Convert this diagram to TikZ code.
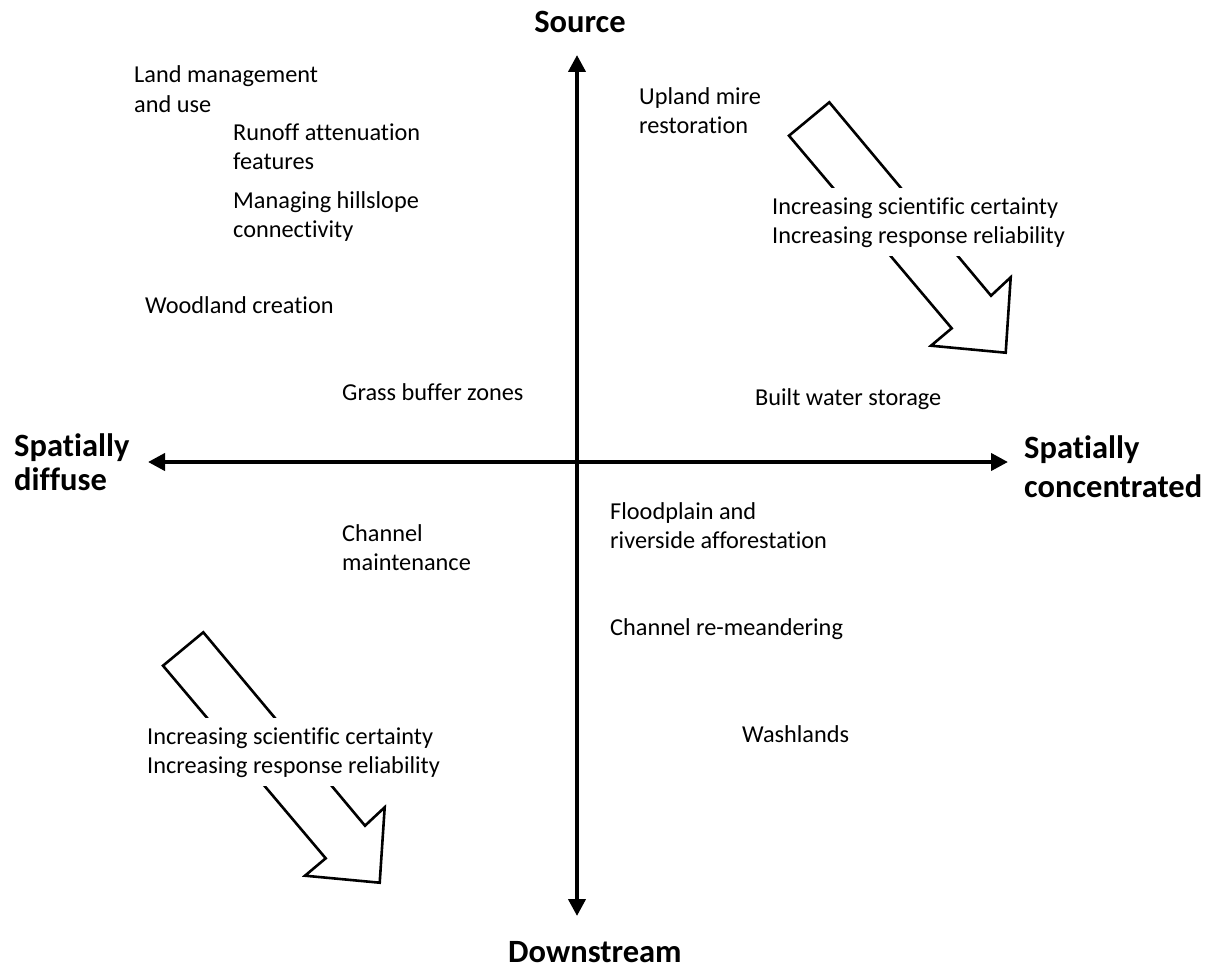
\documentclass[tikz,border=0pt]{standalone}
\usepackage{fontspec}
\setmainfont{Carlito}[Ligatures={NoCommon}]
\usetikzlibrary{arrows.meta}
\begin{document}
\begin{tikzpicture}[x=1pt,y=-1pt,
  lbl/.style={anchor=base west,align=left,inner sep=0pt,font=\fontsize{24.3}{29}\selectfont},
  axlbl/.style={anchor=base west,align=left,inner sep=0pt,font=\fontsize{32.5}{39}\selectfont\bfseries},
  axis/.style={line width=4pt,{Triangle[length=17pt,width=17pt]}-{Triangle[length=17pt,width=17pt]}},
  blockarrow/.style={draw=black,line width=2.6pt,line join=miter,fill=white},
  masklbl/.style={lbl,fill=white,inner xsep=2pt,inner ysep=9pt}]
\useasboundingbox (0,0) rectangle (1208,966);
% axes
\coordinate (top) at (577,55);
\coordinate (bot) at (577,916);
\coordinate (lft) at (148,462);
\coordinate (rgt) at (1008,462);
\draw[axis] (bot) -- (top);
\draw[axis] (lft) -- (rgt);
% axis labels
\node[axlbl,anchor=base] (src) at (580,33) {Source};
\node[axlbl] (dwn) at (508,962) {Downstream};
\node[axlbl,font=\fontsize{32.5}{33.5}\selectfont\bfseries] (dif) at (14,490) {Spatially\\diffuse};
\node[axlbl] (con) at (1024,497) {Spatially\\concentrated};
% block arrows
\draw[blockarrow] (829.3,102.3) -- (789,135.7) -- (951.7,328.3) -- (931,345.7) -- (1005.7,352.7) -- (1010.7,277.3) -- (991,295.7) -- cycle;
\begin{scope}[shift={(-626,530)}]
\draw[blockarrow] (829.3,102.3) -- (789,135.7) -- (951.7,328.3) -- (931,345.7) -- (1005.7,352.7) -- (1010.7,277.3) -- (991,295.7) -- cycle;
\end{scope}
% labels (anchor = baseline of last line)
\node[lbl] (lm) at (134,112) {Land management\\and use};
\node[lbl] (ra) at (233,169) {Runoff attenuation\\features};
\node[lbl] (mh) at (233,237) {Managing hillslope\\connectivity};
\node[lbl] (wc) at (145,313) {Woodland creation};
\node[lbl] (gb) at (342,400) {Grass buffer zones};
\node[lbl] (um) at (639,133) {Upland mire\\restoration};
\node[masklbl] (ic1) at (770,243) {Increasing scientific certainty\\Increasing response reliability};
\node[lbl] (bw) at (755,405) {Built water storage};
\node[lbl] (fp) at (610,548) {Floodplain and\\riverside afforestation};
\node[lbl] (cm) at (342,570) {Channel\\maintenance};
\node[lbl] (cr) at (610,635) {Channel re-meandering};
\node[lbl] (wl) at (742,742) {Washlands};
\node[masklbl] (ic2) at (145,773) {Increasing scientific certainty\\Increasing response reliability};
\end{tikzpicture}
\end{document}
